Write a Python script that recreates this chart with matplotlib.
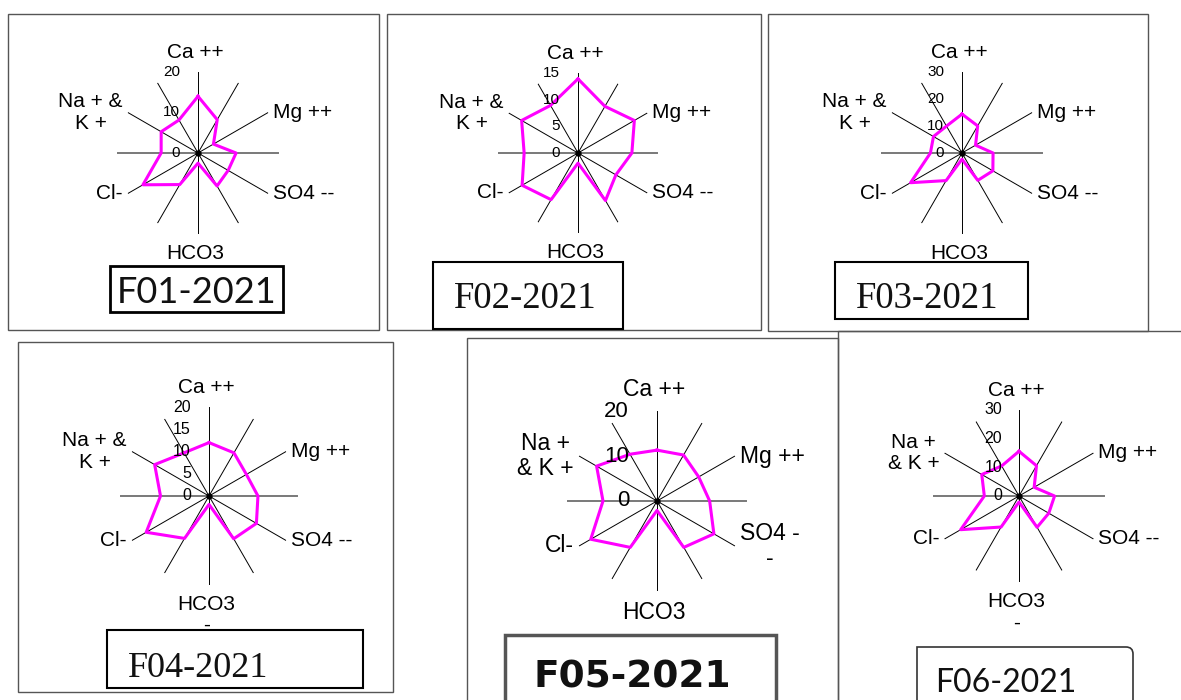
import numpy as np
import matplotlib
matplotlib.use('Agg')
import matplotlib.pyplot as plt
from matplotlib.patches import Rectangle, PathPatch
from matplotlib.path import Path

W, H = 1181, 700

# 12 spokes clockwise from the top, every second one carries an ion name
f01 = [14.0, 9.5, 4.4, 9.4, 8.6, 9.4, 2.5, 9.0, 15.7, 9.1, 10.5, 9.4]
f02 = [13.9, 10.1, 12.2, 10.1, 8.2, 10.3, 1.9, 10.1, 12.1, 10.1, 12.2, 10.3]
f03 = [14.4, 11.6, 5.8, 11.5, 13.2, 11.7, 2.3, 11.8, 22.0, 11.7, 12.2, 11.5]
f04 = [12.0, 11.2, 9.7, 11.0, 12.3, 11.1, 1.9, 11.0, 16.3, 10.9, 14.1, 11.2]
f05 = [11.3, 11.8, 10.7, 11.7, 14.6, 11.9, 2.1, 11.9, 17.0, 12.0, 15.5, 12.0]
f06 = [15.6, 12.2, 6.1, 12.4, 12.0, 12.6, 2.1, 12.5, 23.5, 12.1, 15.0, 12.1]

labels_a = ['Ca ++', 'Mg ++', 'SO4 --', 'HCO3', 'Cl-', 'Na + &\nK +']
labels_f04 = ['Ca ++', 'Mg ++', 'SO4 --', 'HCO3\n-', 'Cl-', 'Na + &\nK +']
labels_f05 = ['Ca ++', 'Mg ++', 'SO4 -\n-', 'HCO3', 'Cl-', 'Na +\n& K +']
labels_f06 = ['Ca ++', 'Mg ++', 'SO4 --', 'HCO3\n-', 'Cl-', 'Na +\n& K +']

ticks_f01 = [0, 10, 20]
ticks_f02 = [0, 5, 10, 15]
ticks_f03 = [0, 10, 20, 30]
ticks_f04 = [0, 5, 10, 15, 20]
ticks_f05 = [0, 10, 20]
ticks_f06 = [0, 10, 20, 30]

names = ['F01-2021', 'F02-2021', 'F03-2021', 'F04-2021', 'F05-2021', 'F06-2021']

# layout in pixels: panel frame, radar centre/radius, name box, name text
panels = [
    dict(vals=f01, labels=labels_a, ticks=ticks_f01, frame=(8, 14, 379, 330),
         c=(198, 153), R=81, fs=15, tfs=11, tdx=18,
         box=(110, 266, 283, 312), blw=2.0, bec='black',
         txt=(197, 303), font='Lato', tsize=26, weight='normal'),
    dict(vals=f02, labels=labels_a, ticks=ticks_f02, frame=(387, 14, 761, 330),
         c=(578, 153), R=80, fs=15, tfs=11, tdx=18,
         box=(433, 262, 623, 329), blw=1.5, bec='black',
         txt=(525, 308), font='Liberation Serif', tsize=26.5, weight='normal'),
    dict(vals=f03, labels=labels_a, ticks=ticks_f03, frame=(768, 14, 1148, 331),
         c=(962, 153), R=81, fs=15, tfs=11, tdx=18,
         box=(835, 262, 1028, 319), blw=1.5, bec='black',
         txt=(927, 308), font='Liberation Serif', tsize=26.5, weight='normal'),
    dict(vals=f04, labels=labels_f04, ticks=ticks_f04, frame=(18, 342, 393, 692),
         c=(209, 496), R=89, fs=15, tfs=11.5, tdx=18,
         box=(107, 630, 363, 688), blw=1.5, bec='black',
         txt=(198, 677), font='Liberation Serif', tsize=26, weight='normal'),
    dict(vals=f05, labels=labels_f05, ticks=ticks_f05, frame=(467, 338, 838, 705),
         c=(657, 501), R=90, fs=16.5, tfs=16, tdx=28,
         box=(505, 635, 776, 705), blw=2.5, bec='#555555',
         txt=(632, 688), font='DejaVu Sans', tsize=27, weight='bold'),
    dict(vals=f06, labels=labels_f06, ticks=ticks_f06, frame=(838, 331, 1190, 705),
         c=(1019, 496), R=86, fs=15, tfs=11.5, tdx=17,
         box=None, blw=1.2, bec='#333333',
         txt=(1006, 692), font='Lato', tsize=23, weight='normal'),
]

fig = plt.figure(figsize=(W / 100, H / 100), dpi=100)
fig.patch.set_facecolor('white')


def fx(x):
    return x / W


def fy(y):
    return 1 - y / H


theta = np.deg2rad(np.arange(12) * 30)
px2pt = 72 / 100

for p in panels:
    x0, y0, x1, y1 = p['frame']
    fig.add_artist(Rectangle((fx(x0), fy(y1)), (x1 - x0) / W, (y1 - y0) / H,
                             transform=fig.transFigure, fill=False,
                             ec='#555555', lw=1.0))

    cx, cy = p['c']
    R = p['R']
    ax = fig.add_axes([fx(cx - R), fy(cy + R), 2 * R / W, 2 * R / H],
                      projection='polar')
    ax.set_theta_zero_location('N')
    ax.set_theta_direction(-1)
    rmax = p['ticks'][-1]
    ax.set_ylim(0, rmax)
    ax.set_xticks(theta)
    ax.set_xticklabels([])
    ax.set_yticks([])
    ax.spines['polar'].set_visible(False)
    ax.patch.set_alpha(0)
    ax.xaxis.grid(True, color='black', lw=0.7)
    for i, gl in enumerate(ax.xaxis.get_gridlines()):
        if i in (3, 9):
            gl.set_color('#555555')
            gl.set_linewidth(1.1)

    v = list(p['vals']) + [p['vals'][0]]
    t = list(theta) + [theta[0]]
    ax.plot(t, v, color='#FF00FF', lw=2.2, clip_on=False, zorder=3)
    ax.plot([0], [0], 'o', color='black', ms=3.5, zorder=4)

    for tk in p['ticks']:
        ax.annotate(str(tk), xy=(0, tk), xytext=(-p['tdx'] * px2pt, 0),
                    textcoords='offset points', ha='right', va='center',
                    fontsize=p['tfs'], family='Liberation Sans',
                    annotation_clip=False)

    side = 5 * px2pt
    vert = 10 * px2pt
    for i, lab in enumerate(p['labels']):
        th = theta[2 * i]
        if i == 0:
            kw = dict(xytext=(-2, vert), ha='center', va='bottom')
        elif i == 3:
            kw = dict(xytext=(-2, -vert), ha='center', va='top')
        elif i in (1, 2):
            kw = dict(xytext=(side, 0), ha='left', va='center')
        else:
            kw = dict(xytext=(-side, 0), ha='right', va='center')
        ax.annotate(lab, xy=(th, rmax), textcoords='offset points',
                    fontsize=p['fs'], family='Liberation Sans',
                    multialignment='center', linespacing=1.15,
                    annotation_clip=False, **kw)

    # name box
    if p['box'] is not None:
        bx0, by0, bx1, by1 = p['box']
        fig.add_artist(Rectangle((fx(bx0), fy(by1)), (bx1 - bx0) / W,
                                 (by1 - by0) / H, transform=fig.transFigure,
                                 fill=False, ec=p['bec'], lw=p['blw']))
    else:
        # F06 box has only its top right corner rounded
        verts = [(fx(917), fy(705)), (fx(917), fy(647)), (fx(1126), fy(647)),
                 (fx(1133), fy(647)), (fx(1133), fy(654)), (fx(1133), fy(705))]
        codes = [Path.MOVETO, Path.LINETO, Path.LINETO, Path.CURVE3,
                 Path.CURVE3, Path.LINETO]
        fig.add_artist(PathPatch(Path(verts, codes), transform=fig.transFigure,
                                 fill=False, ec=p['bec'], lw=p['blw']))
    tx, ty = p['txt']
    fig.text(fx(tx), fy(ty), names[panels.index(p)], ha='center',
             va='baseline', fontsize=p['tsize'], family=p['font'],
             weight=p['weight'], color='#111111')

fig.savefig('out.png', dpi=100, facecolor='white')
